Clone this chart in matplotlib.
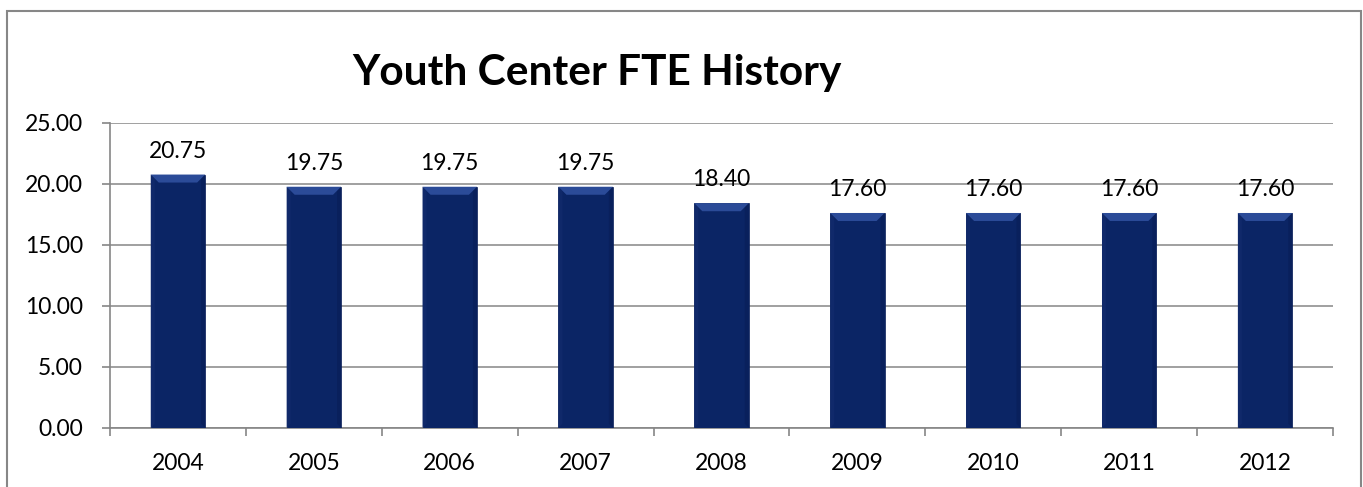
import matplotlib
matplotlib.use("Agg")
import matplotlib.pyplot as plt
from matplotlib.patches import Rectangle, Polygon
import numpy as np

years = ["2004", "2005", "2006", "2007", "2008", "2009", "2010", "2011", "2012"]
fte = [20.75, 19.75, 19.75, 19.75, 18.40, 17.60, 17.60, 17.60, 17.60]
yticks = [0, 5, 10, 15, 20, 25]
title = "Youth Center FTE History"

W, H = 1363, 487
plt.rcParams['font.family'] = ['Lato', 'DejaVu Sans']
fig = plt.figure(figsize=(W / 100, H / 100), dpi=100)

ax_l, ax_r, ax_t, ax_b = 110, 1333, 122.7, 427.7
ax = fig.add_axes([ax_l / W, 1 - ax_b / H, (ax_r - ax_l) / W, (ax_b - ax_t) / H])

gray = "#868686"
bar_col = "#0B2565"
x = np.arange(len(years))
bw = 0.4
bars = ax.bar(x, fte, width=bw, color=bar_col, edgecolor="#0A1F58", linewidth=0.5, zorder=3)

ax.set_xlim(-0.5, len(years) - 0.5)
ax.set_ylim(0, 25)

# bevel on top of each bar (derived from bar geometry)
px_per_x = (ax_r - ax_l) / len(years)
px_per_y = (ax_b - ax_t) / 25
d = 8
dx, dy = d / px_per_x, d / px_per_y
sx, sy = 4 / px_per_x, 4 / px_per_y
for b in bars:
    x0, w, h = b.get_x(), b.get_width(), b.get_height()
    x1 = x0 + w
    ax.add_patch(Polygon([(x0, h), (x0 + sx, h - sy), (x0 + sx, sy), (x0, 0)],
                         closed=True, facecolor="#10296A", edgecolor="none", zorder=4))
    ax.add_patch(Polygon([(x1, h), (x1 - sx, h - sy), (x1 - sx, sy), (x1, 0)],
                         closed=True, facecolor="#09205C", edgecolor="none", zorder=4))
    ax.add_patch(Polygon([(x0, h), (x1, h), (x1 - dx, h - dy), (x0 + dx, h - dy)],
                         closed=True, facecolor="#2B4B98", edgecolor="none", zorder=4))
    ax.text(x0 + w / 2, h + 17 / px_per_y, f"{h:.2f}", ha="center", va="baseline",
            fontsize=16.5, color="black", zorder=5)

ax.set_yticks(yticks)
ax.set_yticklabels([f"{v:.2f}" for v in yticks], fontsize=16.5)
ax.set_xticks(x)
ax.set_xticklabels(years, fontsize=16.5)
ax.set_xticks(np.arange(-0.5, len(years) + 0.5, 1), minor=True)
ax.tick_params(axis="x", which="major", length=0, pad=18.5)
ax.tick_params(axis="x", which="minor", length=5.8, width=1.2, color=gray, direction="out")
ax.tick_params(axis="y", length=5.8, width=1.2, color=gray, direction="out", pad=13.7)

ax.grid(axis="y", color=gray, linewidth=1.1, zorder=0)
ax.set_axisbelow(True)
for s in ["top", "right"]:
    ax.spines[s].set_visible(False)
for s in ["left", "bottom"]:
    ax.spines[s].set_color(gray)
    ax.spines[s].set_linewidth(1.2)

fig.text(597 / W, 1 - 85 / H, title, ha="center", va="baseline",
         fontsize=30.5, fontweight="bold", color="black")

# chart border
fig.add_artist(Rectangle((7 / W, -0.1), (1361 - 7) / W, 1.1 - 10.5 / H,
                         transform=fig.transFigure, fill=False,
                         edgecolor="#878787", linewidth=1.5))

fig.savefig("out.png", dpi=100)
